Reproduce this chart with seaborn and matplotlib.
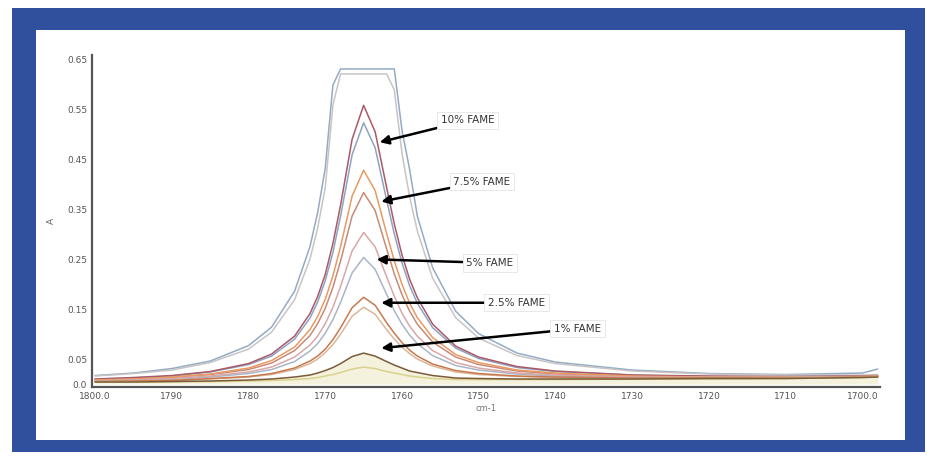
import numpy as np
import pandas as pd
import matplotlib
matplotlib.use("Agg")
import matplotlib.pyplot as plt
from matplotlib.patches import Rectangle
import seaborn as sns

# ---------------- data ----------------
wavenumber = [1800, 1795, 1790, 1785, 1780, 1777, 1774, 1772, 1771, 1770, 1769, 1768, 1766.5, 1765,
              1763.5, 1762, 1761, 1760, 1759, 1758, 1756, 1753, 1750, 1745, 1740, 1730, 1720, 1710, 1700, 1698]

outer_blue = [0.017, 0.022, 0.031, 0.046, 0.077, 0.114, 0.186, 0.275, 0.343, 0.433, 0.600, 0.632, 0.632, 0.632,
              0.632, 0.632, 0.632, 0.509, 0.430, 0.337, 0.233, 0.146, 0.101, 0.062, 0.044, 0.028, 0.021, 0.019, 0.022, 0.030]
outer_gray = [0.016, 0.021, 0.028, 0.043, 0.070, 0.104, 0.169, 0.250, 0.312, 0.394, 0.560, 0.622, 0.622, 0.622,
              0.622, 0.622, 0.590, 0.463, 0.375, 0.307, 0.212, 0.133, 0.092, 0.057, 0.041, 0.026, 0.020, 0.018, 0.018, 0.019]
fame10 = [0.010, 0.013, 0.017, 0.025, 0.041, 0.060, 0.096, 0.141, 0.175, 0.220, 0.282, 0.359, 0.491, 0.559,
          0.506, 0.394, 0.321, 0.259, 0.210, 0.173, 0.120, 0.076, 0.054, 0.035, 0.026, 0.018, 0.016, 0.015, 0.016, 0.017]
blue2 = [0.010, 0.012, 0.016, 0.024, 0.039, 0.056, 0.090, 0.132, 0.164, 0.207, 0.264, 0.337, 0.460, 0.524,
         0.474, 0.369, 0.301, 0.243, 0.197, 0.162, 0.113, 0.072, 0.051, 0.033, 0.025, 0.018, 0.015, 0.015, 0.016, 0.016]
fame75 = [0.008, 0.010, 0.014, 0.020, 0.032, 0.047, 0.074, 0.109, 0.135, 0.170, 0.217, 0.276, 0.377, 0.429,
          0.388, 0.302, 0.247, 0.200, 0.162, 0.133, 0.093, 0.059, 0.043, 0.028, 0.022, 0.016, 0.014, 0.014, 0.015, 0.016]
brown = [0.008, 0.010, 0.013, 0.019, 0.029, 0.042, 0.067, 0.097, 0.121, 0.152, 0.194, 0.247, 0.337, 0.384,
         0.348, 0.271, 0.221, 0.179, 0.146, 0.120, 0.084, 0.054, 0.039, 0.026, 0.020, 0.015, 0.014, 0.014, 0.015, 0.016]
fame5 = [0.007, 0.008, 0.011, 0.016, 0.024, 0.034, 0.054, 0.078, 0.096, 0.121, 0.154, 0.196, 0.267, 0.304,
         0.275, 0.215, 0.176, 0.142, 0.116, 0.096, 0.067, 0.043, 0.032, 0.022, 0.018, 0.014, 0.013, 0.013, 0.015, 0.015]
gray2 = [0.006, 0.007, 0.009, 0.014, 0.021, 0.029, 0.045, 0.066, 0.081, 0.102, 0.129, 0.164, 0.223, 0.254,
         0.230, 0.180, 0.147, 0.120, 0.098, 0.081, 0.057, 0.037, 0.028, 0.020, 0.016, 0.013, 0.013, 0.013, 0.014, 0.015]
fame25 = [0.005, 0.006, 0.007, 0.011, 0.015, 0.021, 0.032, 0.046, 0.056, 0.070, 0.089, 0.113, 0.153, 0.174,
          0.158, 0.123, 0.102, 0.083, 0.068, 0.056, 0.040, 0.027, 0.021, 0.016, 0.014, 0.012, 0.012, 0.012, 0.014, 0.015]
tan = [0.005, 0.006, 0.007, 0.010, 0.014, 0.019, 0.029, 0.041, 0.050, 0.063, 0.079, 0.100, 0.136, 0.154,
       0.140, 0.109, 0.090, 0.074, 0.061, 0.050, 0.036, 0.024, 0.019, 0.015, 0.013, 0.012, 0.012, 0.012, 0.014, 0.015]
fame1 = [0.004, 0.004, 0.005, 0.006, 0.008, 0.010, 0.014, 0.018, 0.022, 0.027, 0.033, 0.041, 0.055, 0.062,
         0.056, 0.045, 0.038, 0.032, 0.026, 0.023, 0.017, 0.012, 0.011, 0.010, 0.010, 0.010, 0.011, 0.011, 0.013, 0.014]
yellow = [0.004, 0.004, 0.004, 0.005, 0.006, 0.007, 0.009, 0.011, 0.013, 0.016, 0.019, 0.023, 0.030, 0.034,
          0.031, 0.025, 0.022, 0.019, 0.016, 0.014, 0.011, 0.009, 0.009, 0.009, 0.009, 0.010, 0.010, 0.011, 0.013, 0.014]

series_names = ["outer_blue", "outer_gray", "blue2", "fame10", "brown", "fame75",
                "gray2", "fame5", "tan", "fame25", "yellow", "fame1"]
series_values = [outer_blue, outer_gray, blue2, fame10, brown, fame75,
                 gray2, fame5, tan, fame25, yellow, fame1]
series_colors = ["#93abc6", "#c9c4c4", "#8ea3c2", "#a95a66", "#c98a78", "#e89a62",
                 "#aab5c7", "#d8a8a6", "#d9b89a", "#c8784e", "#d9d28e", "#7a5a3a"]

x_ticks = [1800, 1790, 1780, 1770, 1760, 1750, 1740, 1730, 1720, 1710, 1700]
x_tick_labels = ["1800.0", "1790", "1780", "1770", "1760", "1750", "1740", "1730", "1720", "1710", "1700.0"]
y_ticks = [0.0, 0.05, 0.15, 0.25, 0.35, 0.45, 0.55, 0.65]
y_tick_labels = ["0.0", "0.05", "0.15", "0.25", "0.35", "0.45", "0.55", "0.65"]

label_texts = ["10% FAME", "7.5% FAME", "5% FAME", "2.5% FAME", "1% FAME"]
arrow_tips = [(1762.9, 0.485), (1762.7, 0.366), (1763.3, 0.250), (1762.7, 0.163), (1762.7, 0.072)]
label_pos = [(1754.9, 0.529), (1753.3, 0.406), (1751.6, 0.243), (1748.8, 0.163), (1740.2, 0.111)]

# ---------------- build long table ----------------
rows = []
for name, vals in zip(series_names, series_values):
    for xv, yv in zip(wavenumber, vals):
        rows.append({"x": xv, "y": yv, "curve": name})
df = pd.DataFrame(rows)

sns.set_style("white")
plt.rcParams["font.family"] = ["DejaVu Sans"]

fig = plt.figure(figsize=(9.33, 4.58), dpi=100)
fig.patch.set_facecolor("white")

W, H = 933.0, 458.0
fig.patches.append(Rectangle((12 / W, 1 - 452 / H), (925 - 12) / W, (452 - 8) / H,
                             transform=fig.transFigure, facecolor="#30509e",
                             edgecolor="none", zorder=-10))
fig.patches.append(Rectangle((36 / W, 1 - 440 / H), (905 - 36) / W, (440 - 30) / H,
                             transform=fig.transFigure, facecolor="white",
                             edgecolor="none", zorder=-9))

ax = fig.add_axes([92 / W, 1 - 387 / H, (880 - 92) / W, (387 - 55) / H])
ax.set_facecolor("none")

ax.fill_between(wavenumber, fame1, 0, color="#f4f1dc", zorder=0, lw=0)

sns.lineplot(data=df, x="x", y="y", hue="curve", hue_order=series_names,
             palette=dict(zip(series_names, series_colors)), legend=False,
             sort=False, estimator=None, lw=1.1, ax=ax)

ax.set_xlim(1800.4, 1697.7)
ax.set_ylim(-0.006, 0.66)
ax.set_xticks(x_ticks)
ax.set_xticklabels(x_tick_labels)
ax.set_yticks(y_ticks)
ax.set_yticklabels(y_tick_labels)
ax.tick_params(axis="both", labelsize=6.5, colors="#555555", length=3, width=0.8, direction="in")
ax.set_xlabel("cm-1", fontsize=6, color="#777777", labelpad=2)
ax.set_ylabel("A", fontsize=6.5, color="#666666", labelpad=8, rotation=90)

for side in ["top", "right"]:
    ax.spines[side].set_visible(False)
for side in ["left", "bottom"]:
    ax.spines[side].set_color("#555555")
    ax.spines[side].set_linewidth(1.6)

for txt, tip, pos in zip(label_texts, arrow_tips, label_pos):
    ax.annotate(txt, xy=tip, xytext=pos, fontsize=7.5, color="#333333",
                ha="left", va="center",
                bbox=dict(boxstyle="square,pad=0.35", fc="white", ec="#e4e4e4", lw=0.6),
                arrowprops=dict(arrowstyle="-|>", color="black", lw=1.8,
                                mutation_scale=13, shrinkA=0, shrinkB=0))

fig.savefig("out.png", dpi=100)
